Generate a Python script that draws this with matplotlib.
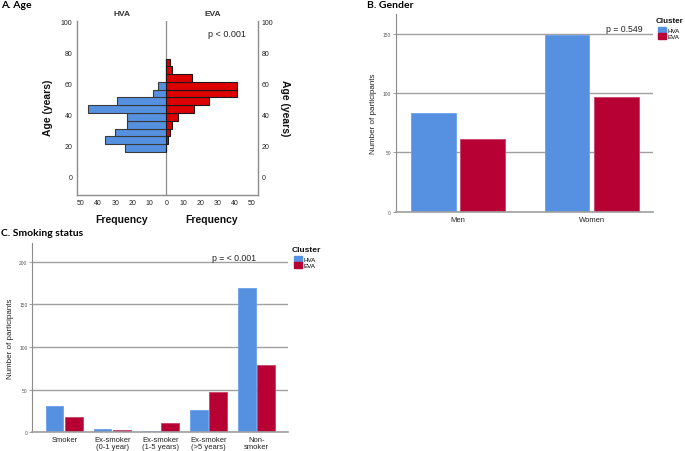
import matplotlib
matplotlib.use("Agg")
import matplotlib.pyplot as plt
import numpy as np
from matplotlib.patches import Patch

# ---------------- data ----------------
age_bin_lower = [16, 21, 26, 31, 36, 41, 46, 51, 56, 61, 66, 71]
age_bin_width = 5
hva_age_counts = [24, 36, 30, 23, 23, 46, 29, 8, 5, 0, 0, 0]
eva_age_counts = [0, 1, 2, 3, 7, 16, 25, 41, 41, 15, 3, 2]

gender_cats = ["Men", "Women"]
gender_hva = [83, 149]
gender_eva = [61, 97]

smoke_cats = ["Smoker", "Ex-smoker\n(0-1 year)", "Ex-smoker\n(1-5 years)",
              "Ex-smoker\n(>5 years)", "Non-\nsmoker"]
smoke_hva = [31, 4, 2, 26, 169]
smoke_eva = [18, 3, 11, 47, 79]

series = ["HVA", "EVA"]

# ---------------- style ----------------
W, H = 685, 452
BLUE = "#5591e0"
RED_B = "#b70033"
RED_A = "#dd0000"
GRID = "#a0a0a0"
SPINE = "#8c8c8c"
TXT = "#222222"
plt.rcParams["font.family"] = ["Liberation Sans", "DejaVu Sans"]

fig = plt.figure(figsize=(W / 100, H / 100), dpi=100)


def rect(l, t, r, b):
    return [l / W, 1 - b / H, (r - l) / W, (b - t) / H]


def fx(x):
    return x / W


def fy(y):
    return 1 - y / H


# ---------------- Panel A ----------------
axA = fig.add_axes(rect(76.7, 22.3, 257.7, 196))
centers = np.array(age_bin_lower) + age_bin_width / 2
axA.barh(centers, -np.array(hva_age_counts), height=age_bin_width,
         color=BLUE, edgecolor="#3a3a3a", linewidth=0.8)
axA.barh(centers, eva_age_counts, height=age_bin_width,
         color=RED_A, edgecolor="#1a1a1a", linewidth=0.8)
axA.axvline(0, color=SPINE, lw=0.9, zorder=0)
axA.set_xlim(-52.5, 53.4)
axA.set_ylim(-11.8, 100)
axA.spines["top"].set_visible(False)
for s in ["left", "right", "bottom"]:
    axA.spines[s].set_color(SPINE)
    axA.spines[s].set_linewidth(1.0)
xt = [-50, -40, -30, -20, -10, 0, 10, 20, 30, 40, 50]
axA.set_xticks(xt)
axA.set_xticklabels([str(abs(v)) for v in xt])
axA.set_yticks([0, 20, 40, 60, 80, 100])
axA.tick_params(axis="both", length=0, labelsize=5, colors=TXT, pad=3)
axA.tick_params(axis="y", labelright=True, right=False)
axA.text(0.83, 0.93, "p < 0.001", transform=axA.transAxes, ha="center",
         va="center", fontsize=6.5, color=TXT)
fig.text(fx(121.7), fy(15), "HVA", ha="center", va="center", fontsize=6,
         fontweight="bold", color="#333333")
fig.text(fx(212.7), fy(15), "EVA", ha="center", va="center", fontsize=6,
         fontweight="bold", color="#333333")
fig.text(fx(122), fy(220), "Frequency", ha="center", va="center", fontsize=7.5,
         fontweight="bold", color="#111111")
fig.text(fx(212), fy(220), "Frequency", ha="center", va="center", fontsize=7.5,
         fontweight="bold", color="#111111")
fig.text(fx(48), fy(108), "Age (years)", ha="center", va="center", fontsize=7.5,
         fontweight="bold", rotation=90, color="#111111")
fig.text(fx(285), fy(108), "Age (years)", ha="center", va="center", fontsize=7.5,
         fontweight="bold", rotation=-90, color="#111111")
fig.text(fx(1), fy(6), "A. Age", ha="left", va="center", fontsize=7.5,
         fontweight="bold", family=["Lato", "DejaVu Sans"])


# ---------------- helper for grouped bars ----------------
def style_bar_axes(ax, yticks):
    for s in ["top", "right"]:
        ax.spines[s].set_visible(False)
    ax.spines["left"].set_color(SPINE)
    ax.spines["left"].set_linewidth(0.8)
    ax.spines["bottom"].set_color(GRID)
    ax.spines["bottom"].set_linewidth(1.2)
    ax.set_yticks(yticks)
    ax.yaxis.grid(True, color=GRID, linewidth=1.0)
    ax.set_axisbelow(True)
    ax.tick_params(axis="y", length=2, width=0.6, color=SPINE, labelsize=3.5,
                   labelcolor="#555555", pad=1.5)
    ax.tick_params(axis="x", length=0, labelsize=5.5, labelcolor=TXT, pad=3)


def legend_at(x, y, title_size=6):
    fig.text(fx(x), fy(y), "Cluster", ha="left", va="top", fontsize=title_size,
             fontweight="bold", color="#111111")
    handles = [Patch(facecolor=BLUE, edgecolor=BLUE, label=series[0]),
               Patch(facecolor=RED_B, edgecolor=RED_B, label=series[1])]
    leg = fig.legend(handles=handles, loc="upper left",
                     bbox_to_anchor=(fx(x + 2.5), fy(y + 10)), frameon=False,
                     fontsize=4.5, handlelength=1.3, handleheight=1.0,
                     handletextpad=0.15, labelspacing=0.05, borderpad=0,
                     borderaxespad=0)
    return leg


# ---------------- Panel B ----------------
axB = fig.add_axes(rect(395.7, 15, 653, 212.7))
xb = np.arange(len(gender_cats))
wB = 0.334
axB.bar(xb - 0.184, gender_hva, width=wB, color=BLUE, edgecolor="#6aa0e8", lw=0.6)
axB.bar(xb + 0.185, gender_eva, width=wB, color=RED_B, edgecolor="#c8446a", lw=0.6)
axB.set_xlim(-0.466, 1.46)
axB.set_ylim(0, 166.6)
axB.set_xticks(xb)
axB.set_xticklabels(gender_cats)
style_bar_axes(axB, [0, 50, 100, 150])
axB.set_ylabel("Number of participants", fontsize=5.8, color=TXT, labelpad=4)
axB.text(0.89, 0.926, "p = 0.549", transform=axB.transAxes, ha="center",
         va="center", fontsize=6.3, color=TXT)
fig.text(fx(367), fy(6), "B. Gender", ha="left", va="center", fontsize=7.5,
         fontweight="bold", family=["Lato", "DejaVu Sans"])
legend_at(655.5, 18, title_size=5.8)

# ---------------- Panel C ----------------
axC = fig.add_axes(rect(32.3, 244.3, 288.3, 433.3))
xc = np.arange(len(smoke_cats))
wC = 0.367
axC.bar(xc - 0.205, smoke_hva, width=wC, color=BLUE, edgecolor="#6aa0e8", lw=0.6)
axC.bar(xc + 0.2, smoke_eva, width=wC, color=RED_B, edgecolor="#c8446a", lw=0.6)
axC.set_xlim(-0.67, 4.66)
axC.set_ylim(0, 221.6)
axC.set_xticks(xc)
axC.set_xticklabels(smoke_cats, linespacing=1.0)
style_bar_axes(axC, [0, 50, 100, 150, 200])
axC.set_ylabel("Number of participants", fontsize=5.8, color=TXT, labelpad=4)
axC.text(0.79, 0.925, "p = < 0.001", transform=axC.transAxes, ha="center",
         va="center", fontsize=6.3, color=TXT)
fig.text(fx(1), fy(234), "C. Smoking status", ha="left", va="center",
         fontsize=7.5, fontweight="bold", family=["Lato", "DejaVu Sans"])
legend_at(291.5, 247)

fig.savefig("out.png", dpi=100, facecolor="white")
